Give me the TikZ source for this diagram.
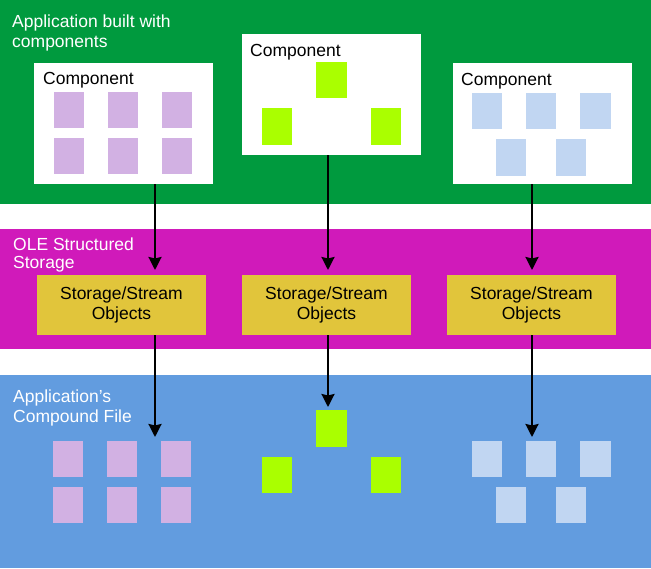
\documentclass[tikz,border=0pt]{standalone}
\usepackage{fontspec}
\setmainfont{Liberation Sans}
\usetikzlibrary{arrows.meta}
\definecolor{bandgreen}{RGB}{0,154,62}
\definecolor{bandmag}{RGB}{208,26,186}
\definecolor{bandblue}{RGB}{98,156,223}
\definecolor{gold}{RGB}{225,197,59}
\definecolor{lilac}{RGB}{210,177,227}
\definecolor{lime}{RGB}{170,255,0}
\definecolor{paleblue}{RGB}{193,214,242}
\begin{document}
\begin{tikzpicture}[x=1pt,y=-1pt,
  compbox/.style={fill=white, anchor=north west, inner sep=0pt, outer sep=0pt, minimum width=179pt, minimum height=121pt},
  sq/.style={anchor=north west, inner sep=0pt, outer sep=0pt, minimum width=30pt, minimum height=36pt},
  lil/.style={sq, fill=lilac},
  lim/.style={sq, fill=lime},
  pal/.style={sq, fill=paleblue},
  storbox/.style={fill=gold, anchor=north west, inner sep=0pt, outer sep=0pt, minimum width=169pt, minimum height=60pt, align=center, font=\fontsize{17.5}{20.5}\selectfont},
  lbl/.style={font=\fontsize{17.5}{20}\selectfont, inner sep=0pt, anchor=base west, align=left},
  wlbl/.style={lbl, text=white},
  arr/.style={line width=2.2pt, -{Stealth[length=13pt,width=13pt,inset=1.5pt]}}]
\useasboundingbox (0,0) rectangle (651,568);
% bands
\fill[white] (0,0) rectangle (651,568);
\fill[bandgreen] (0,0) rectangle (651,204);
\fill[bandmag] (0,229) rectangle (651,349);
\fill[bandblue] (0,375) rectangle (651,568);
% band labels (anchored at the baseline of the last line)
\node[wlbl] (lapp) at (12,47) {Application built with\\components};
\node[wlbl] (lole) at (13,268) {OLE Structured\\[-2pt]Storage};
\node[wlbl] (lfile) at (13,422) {Application’s\\Compound File};
% component boxes
\node[compbox] (comp1) at (34,63) {};
\node[compbox] (comp2) at (242,34) {};
\node[compbox] (comp3) at (453,63) {};
\node[lbl] (t1) at (43,84) {Component};
\node[lbl] (t2) at (250,56) {Component};
\node[lbl] (t3) at (461,85) {Component};
% top squares
\node[lil] (a1) at (54,92) {};
\node[lil] (a2) at (108,92) {};
\node[lil] (a3) at (162,92) {};
\node[lil] (a4) at (54,138) {};
\node[lil] (a5) at (108,138) {};
\node[lil] (a6) at (162,138) {};
\node[lim, minimum width=31pt] (b1) at (316,62) {};
\node[lim, minimum height=37pt] (b2) at (262,108) {};
\node[lim, minimum height=37pt] (b3) at (371,108) {};
\node[pal] (c1) at (472,93) {};
\node[pal] (c2) at (526,93) {};
\node[pal, minimum width=31pt] (c3) at (580,93) {};
\node[pal, minimum height=37pt] (c4) at (496,139) {};
\node[pal, minimum height=37pt] (c5) at (556,139) {};
% storage boxes
\node[storbox] (s1) at (37,275) {Storage/Stream\\Objects};
\node[storbox] (s2) at (242,275) {Storage/Stream\\Objects};
\node[storbox] (s3) at (447,275) {Storage/Stream\\Objects};
% bottom squares
\node[lil] (d1) at (53,441) {};
\node[lil] (d2) at (107,441) {};
\node[lil] (d3) at (161,441) {};
\node[lil] (d4) at (53,487) {};
\node[lil] (d5) at (107,487) {};
\node[lil] (d6) at (161,487) {};
\node[lim, minimum width=31pt, minimum height=37pt] (e1) at (316,410) {};
\node[lim] (e2) at (262,457) {};
\node[lim] (e3) at (371,457) {};
\node[pal] (f1) at (472,441) {};
\node[pal] (f2) at (526,441) {};
\node[pal, minimum width=31pt] (f3) at (580,441) {};
\node[pal] (f4) at (496,487) {};
\node[pal] (f5) at (556,487) {};
% arrow columns
\coordinate (x1) at (155,0);
\coordinate (x2) at (328,0);
\coordinate (x3) at (532,0);
% arrows
\draw[arr, shorten >=5pt] (comp1.south -| x1) -- (s1.north -| x1);
\draw[arr, shorten >=5pt] (comp2.south -| x2) -- (s2.north -| x2);
\draw[arr, shorten >=5pt] (comp3.south -| x3) -- (s3.north -| x3);
\draw[arr, shorten >=4pt] (s1.south -| x1) -- (d3.north -| x1);
\draw[arr, shorten >=3pt] (s2.south -| x2) -- (e1.north -| x2);
\draw[arr, shorten >=4pt] (s3.south -| x3) -- (f2.north -| x3);
\end{tikzpicture}
\end{document}
